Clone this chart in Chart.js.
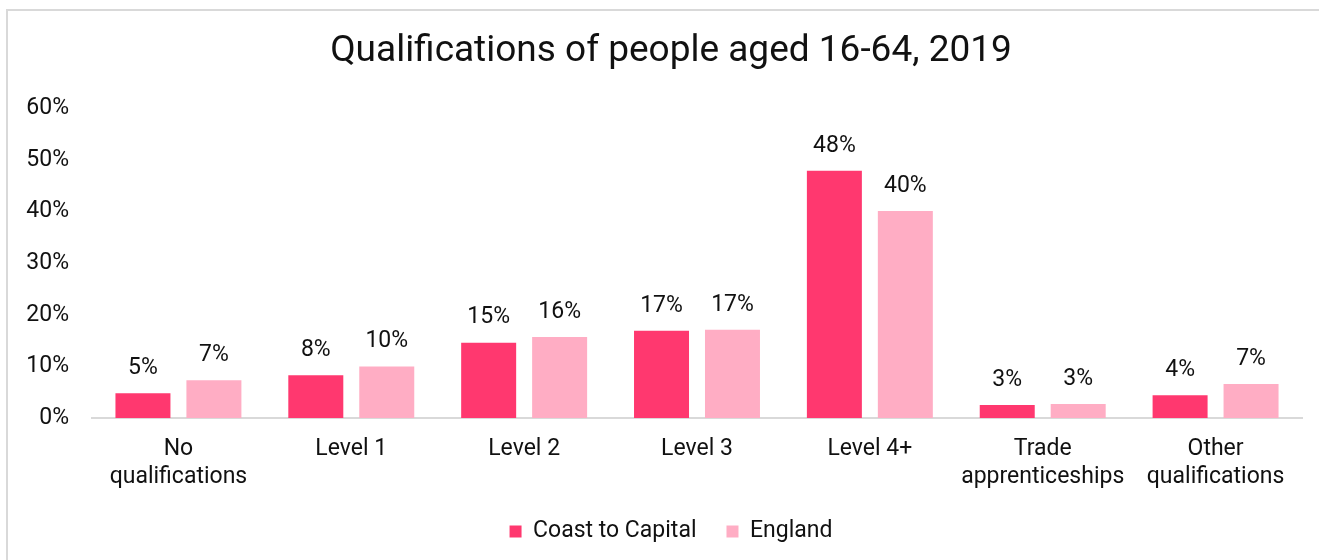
<!DOCTYPE html>
<html>
<head>
<meta charset="utf-8">
<title>Qualifications of people aged 16-64, 2019</title>
<script src="https://cdn.jsdelivr.net/npm/chart.js@4/dist/chart.umd.min.js"></script>
<style>
  html, body { margin: 0; padding: 0; background: #fff; overflow: hidden; }
  body { width: 1319px; height: 560px; position: relative; }
  .frame {
    position: absolute; left: 6px; top: 9px; width: 1400px; height: 600px;
    border-left: 2px solid #d9d9d9; border-top: 2px solid #d9d9d9;
    box-sizing: border-box;
  }
  .chart-box { position: absolute; left: 7px; top: 10px; width: 1328px; height: 543px; }
</style>
</head>
<body>
<div class="frame"></div>
<div class="chart-box"><canvas id="quals-chart"></canvas></div>
<script>
// ─── Data ─────────────────────────────────────────────────────────────────────
const categories = [
  ['No', 'qualifications'],
  'Level 1',
  'Level 2',
  'Level 3',
  'Level 4+',
  ['Trade', 'apprenticeships'],
  ['Other', 'qualifications'],
];
const coastToCapital = [4.8, 8.3, 14.6, 16.9, 47.9, 2.5, 4.4];
const england = [7.3, 10.0, 15.7, 17.1, 40.1, 2.7, 6.6];
const yTicks = [0, 10, 20, 30, 40, 50, 60];

const FONT = 'Roboto';
const TEXT = '#111111';

// Value labels above each bar
const barLabels = {
  id: 'barLabels',
  afterDatasetsDraw(chart) {
    const { ctx } = chart;
    ctx.save();
    ctx.font = `23px ${FONT}`;
    ctx.fillStyle = TEXT;
    ctx.textAlign = 'center';
    ctx.textBaseline = 'middle';
    chart.data.datasets.forEach((ds, i) => {
      chart.getDatasetMeta(i).data.forEach((bar, j) => {
        ctx.fillText(Math.round(ds.data[j]) + '%', bar.x, bar.y - 25);
      });
    });
    ctx.restore();
  },
};

new Chart(document.getElementById('quals-chart'), {
  type: 'bar',
  data: {
    labels: categories,
    datasets: [
      {
        label: 'Coast to Capital',
        data: coastToCapital,
        backgroundColor: '#ff386f',
        categoryPercentage: 0.821,
        barPercentage: 0.775,
      },
      {
        label: 'England',
        data: england,
        backgroundColor: '#ffadc4',
        categoryPercentage: 0.821,
        barPercentage: 0.775,
      },
    ],
  },
  options: {
    responsive: true,
    maintainAspectRatio: false,
    animation: false,
    layout: { padding: 0 },
    plugins: {
      title: {
        display: true,
        text: 'Qualifications of people aged 16-64, 2019',
        color: TEXT,
        font: { family: FONT, size: 37, weight: 'normal', lineHeight: 1.2 },
        padding: { top: 20, bottom: 34 },
      },
      legend: {
        position: 'bottom',
        labels: {
          color: TEXT,
          font: { family: FONT, size: 23 },
          boxWidth: 12,
          boxHeight: 12,
          padding: 30,
        },
      },
      tooltip: { enabled: false },
    },
    scales: {
      x: {
        grid: { display: false, drawTicks: false },
        border: { display: true, color: '#d9d9d9', width: 2 },
        ticks: {
          color: TEXT,
          font: { family: FONT, size: 23, lineHeight: 1.22 },
          padding: 17,
          maxRotation: 0,
          autoSkip: false,
        },
        afterFit: (scale) => { scale.height = 72; },
      },
      y: {
        min: 0,
        max: 60,
        grid: { display: false, drawTicks: false },
        border: { display: false },
        afterBuildTicks: (scale) => { scale.ticks = yTicks.map(v => ({ value: v })); },
        ticks: {
          color: TEXT,
          font: { family: FONT, size: 23 },
          padding: 23,
          callback: (v) => v + '%',
        },
        afterFit: (scale) => { scale.width = 85; },
      },
      // empty right-hand margin so the plot stops short of the frame edge
      yRight: {
        position: 'right',
        grid: { display: false, drawTicks: false },
        border: { display: false },
        ticks: { display: false },
        afterFit: (scale) => { scale.width = 33; },
      },
    },
  },
  plugins: [barLabels],
});
</script>
</body>
</html>
